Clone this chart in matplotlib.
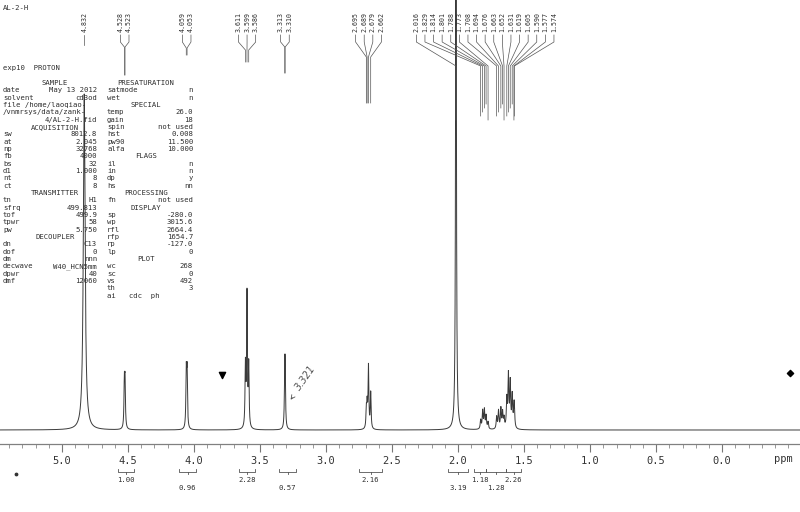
import numpy as np
import matplotlib
matplotlib.use("Agg")
import matplotlib.pyplot as plt
from matplotlib.ticker import FixedLocator, MultipleLocator

# ---- data ----
sample_id = "AL-2-H"
exp_line = "exp10  PROTON"

peak_ppm = [4.832, 4.528, 4.523, 4.059, 4.053, 3.611, 3.599, 3.586,
            3.313, 3.310, 2.695, 2.689, 2.679, 2.662, 2.016,
            1.829, 1.814, 1.801, 1.788, 1.773,
            1.708, 1.694, 1.676, 1.663, 1.652,
            1.631, 1.619, 1.605, 1.590, 1.577, 1.574]
peak_height = [336, 43, 43, 54, 54, 61, 133, 61,
               45, 45, 18, 22, 62, 36, 600,
               9, 18, 19, 13, 7,
               12, 18, 20, 16, 10,
               28, 52, 45, 32, 15, 15]
peak_hwhm = [0.008] + [0.0035] * 14 + [0.004] * 16

integral_from = [4.576, 4.114, 3.659, 3.356, 2.750, 2.076, 1.879, 1.788, 1.636]
integral_to = [4.455, 3.985, 3.538, 3.227, 2.576, 1.924, 1.788, 1.636, 1.523]
integral_val = ["1.00", "0.96", "2.28", "0.57", "2.16", "3.19", "1.18", "1.28", "2.26"]

x_ticks = [5.0, 4.5, 4.0, 3.5, 3.0, 2.5, 2.0, 1.5, 1.0, 0.5, 0.0]
tick_labels = ["5.0", "4.5", "4.0", "3.5", "3.0", "2.5", "2.0", "1.5", "1.0", "0.5", "0.0"]

left_col = ["#SAMPLE", "date|May 13 2012", "solvent|cd3od", "<file /home/laoqiao-",
            "</vnmrsys/data/zank-", ">4/AL-2-H.fid", "#ACQUISITION", "sw|8012.8",
            "at|2.045", "np|32768", "fb|4000", "bs|32", "d1|1.000", "nt|8", "ct|8",
            "#TRANSMITTER", "tn|H1", "sfrq|499.813", "tof|499.9", "tpwr|58", "pw|5.750",
            "#DECOUPLER", "dn|C13", "dof|0", "dm|nnn", "decwave|W40_HCN5mm",
            "dpwr|40", "dmf|12060"]
right_col = ["#PRESATURATION", "satmode|n", "wet|n", "#SPECIAL", "temp|26.0",
             "gain|18", "spin|not used", "hst|0.008", "pw90|11.500", "alfa|10.000",
             "#FLAGS", "il|n", "in|n", "dp|y", "hs|nn", "#PROCESSING", "fn|not used",
             "#DISPLAY", "sp|-280.0", "wp|3015.6", "rfl|2664.4", "rfp|1654.7",
             "rp|-127.0", "lp|0", "#PLOT", "wc|268", "sc|0", "vs|492", "th|3",
             "<ai   cdc  ph"]

# ---- layout ----
W, H = 800, 512
XL = (5.47, -0.59)
BASE = 430          # baseline row (pixels from top)
MONO = "DejaVu Sans Mono"
INK = "#2e2e2e"


def ypx(p):
    return BASE - p


def to_ppm(xp):
    return XL[0] + (XL[1] - XL[0]) * xp / W


def spread_labels(ppms, sp):
    clusters = [[p] for p in sorted(ppms, reverse=True)]

    def layout(c):
        mid = (c[0] + c[-1]) / 2
        n = len(c)
        return [mid + sp * ((n - 1) / 2 - k) for k in range(n)]

    merged = True
    while merged:
        merged = False
        for i in range(len(clusters) - 1):
            if layout(clusters[i])[-1] - layout(clusters[i + 1])[0] < sp:
                clusters[i] = clusters[i] + clusters[i + 1]
                del clusters[i + 1]
                merged = True
                break
    return [(c, layout(c)) for c in clusters]


fig = plt.figure(figsize=(8, 5.12), dpi=100)
ax = fig.add_axes([0, 68 / H, 1, 444 / H])
ax.set_xlim(*XL)
ax.set_ylim(-14, 430)

x = np.linspace(XL[0], XL[1], 40000)
spec = np.zeros_like(x)
for p, h, g in zip(peak_ppm, peak_height, peak_hwhm):
    spec += h / (1 + ((x - p) / g) ** 2)
ax.plot(x, spec, color="#3a3a3a", lw=0.7)

for s in ["top", "left", "right"]:
    ax.spines[s].set_visible(False)
ax.spines["bottom"].set_color("#808080")
ax.spines["bottom"].set_linewidth(0.9)
ax.set_yticks([])
ax.xaxis.set_major_locator(FixedLocator(x_ticks))
ax.set_xticklabels(tick_labels, fontfamily=MONO, fontsize=7.5, color="#333333")
ax.xaxis.set_minor_locator(MultipleLocator(0.1))
ax.tick_params(axis="x", which="major", length=6, width=0.8, color="#777777", pad=3)
ax.tick_params(axis="x", which="minor", length=3, width=0.6, color="#888888")
fig.text(783 / W, 1 - 459 / H, "ppm", ha="center", va="center",
         fontfamily=MONO, fontsize=7.5, color="#333333")

# peak labels with leaders
leader_style = [(45, 45), (47, 75), (48, 55), (50, 62), (47, 73), (57, 103), (66, 120)]
groups = spread_labels(peak_ppm, 8.6 * (XL[0] - XL[1]) / W)
for gi, (peaks, lpos) in enumerate(groups):
    diag, drop = leader_style[min(gi, len(leader_style) - 1)]
    for k, (pk, lx) in enumerate(zip(peaks, lpos)):
        end = drop - 4 * (k % 5) if len(peaks) > 8 else drop
        ax.plot([lx, lx, pk, pk], [ypx(35), ypx(42), ypx(diag), ypx(end)],
                color="#555555", lw=0.5, clip_on=False)
        ax.text(lx, ypx(12), f"{pk:.3f}", rotation=90, ha="center", va="top",
                fontfamily=MONO, fontsize=4.8, color=INK)

# integrals
for i, (a, b, v) in enumerate(zip(integral_from, integral_to, integral_val)):
    yb = ypx(472)
    ax.plot([a, a, b, b], [yb + 3, yb, yb, yb + 3], color="#555555", lw=0.6, clip_on=False)
    mid = (a + b) / 2
    ax.plot([mid, mid], [yb, yb - 2], color="#555555", lw=0.6, clip_on=False)
    row = 480 if i % 2 == 0 else 488
    ax.text(mid, ypx(row), v, ha="center", va="center",
            fontfamily=MONO, fontsize=5.2, color=INK)

# parameter block
PFS = 5.2
fig.text(3 / W, 1 - 8 / H, sample_id, ha="left", va="center",
         fontfamily=MONO, fontsize=PFS, color=INK)
fig.text(3 / W, 1 - 68 / H, exp_line, ha="left", va="center",
         fontfamily=MONO, fontsize=PFS, color=INK)
for col, (x0, x1, xh) in [(left_col, (3, 97, 55)), (right_col, (107, 193, 146))]:
    for r, item in enumerate(col):
        yy = 1 - (83 + 7.33 * r) / H
        kw = dict(va="center", fontfamily=MONO, fontsize=PFS, color=INK)
        if item.startswith("#"):
            fig.text(xh / W, yy, item[1:], ha="center", **kw)
        elif item.startswith("<"):
            fig.text(x0 / W, yy, item[1:], ha="left", **kw)
        elif item.startswith(">"):
            fig.text(x1 / W, yy, item[1:], ha="right", **kw)
        else:
            k, v = item.split("|")
            fig.text(x0 / W, yy, k, ha="left", **kw)
            fig.text(x1 / W, yy, v, ha="right", **kw)

# handwritten note and ink specks on the scan
ax.annotate("3.321", xy=(to_ppm(289), ypx(402)), xytext=(to_ppm(306), ypx(378)),
            rotation=55, fontsize=7, color="#555555", fontstyle="italic",
            ha="center", va="center",
            arrowprops=dict(arrowstyle="->", color="#555555", lw=0.6))
ax.scatter([to_ppm(222)], [ypx(375)], marker="v", s=20, c="k", clip_on=False)
ax.scatter([to_ppm(790)], [ypx(373)], marker="D", s=10, c="k", clip_on=False)
ax.scatter([to_ppm(16)], [ypx(474)], marker="o", s=3, c="#333333", clip_on=False)

fig.savefig("out.png", dpi=100, facecolor="white")
